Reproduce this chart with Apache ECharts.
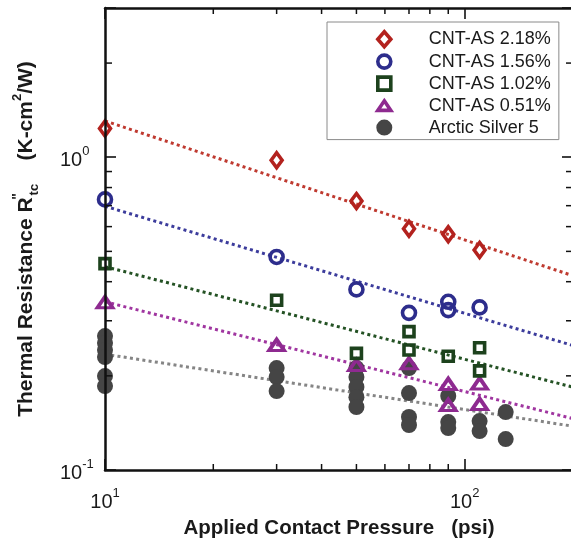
<!DOCTYPE html>
<html>
<head>
<meta charset="utf-8">
<script src="https://cdn.jsdelivr.net/npm/echarts@6/dist/echarts.min.js"></script>
<style>
  html, body { margin: 0; padding: 0; background: #fff; }
  #chart { width: 571px; height: 543px; }
</style>
</head>
<body>
<div id="chart"></div>
<script>
// Applied contact pressure (psi) and thermal contact resistance (K-cm^2/W)
const pressureAS218 = [10, 30, 50, 70, 90, 110];
const resistAS218   = [1.235, 0.978, 0.724, 0.591, 0.567, 0.505];

const pressureAS156 = [10, 30, 50, 70, 90, 90, 110];
const resistAS156   = [0.733, 0.480, 0.378, 0.318, 0.345, 0.3245, 0.331];

const pressureAS102 = [10, 30, 50, 70, 70, 90, 110, 110];
const resistAS102   = [0.457, 0.349, 0.236, 0.277, 0.242, 0.231, 0.246, 0.2075];

const pressureAS051 = [10, 30, 50, 70, 90, 90, 110, 110];
const resistAS051   = [0.344, 0.251, 0.2165, 0.2193, 0.1883, 0.1613, 0.1891, 0.1625];

const pressureSilver = [10, 10, 10, 10, 10, 10, 30, 30, 30, 50, 50, 50, 50, 50,
                        70, 70, 70, 70, 90, 90, 90, 110, 110, 130, 130];
const resistSilver   = [0.268, 0.2545, 0.2417, 0.2296, 0.1996, 0.1855,
                        0.2118, 0.1982, 0.1788,
                        0.2118, 0.1982, 0.1842, 0.171, 0.159,
                        0.2118, 0.1762, 0.1477, 0.1393,
                        0.1724, 0.1423, 0.1362,
                        0.1434, 0.1332,
                        0.1532, 0.1256];

const seriesNames = ['CNT-AS 2.18%', 'CNT-AS 1.56%', 'CNT-AS 1.02%', 'CNT-AS 0.51%', 'Arctic Silver 5'];

// Dotted power-law fits, given by their values at 10 psi and at 200 psi
const fitPressure = [10, 200];
const fitAS218  = [1.306, 0.418];
const fitAS156  = [0.697, 0.250];
const fitAS102  = [0.447, 0.184];
const fitAS051  = [0.345, 0.146];
const fitSilver = [0.2345, 0.138];

// Minor tick positions on the logarithmic axes
const xMinorTicks = [20, 30, 40, 50, 60, 70, 80, 90];
const yMinorTicks = [0.2, 0.3, 0.4, 0.5, 0.6, 0.7, 0.8, 0.9, 2];

const X_MIN = 10, X_MAX = 200, Y_MIN = 0.1, Y_MAX = 3;
const FONT = '"Liberation Sans", Arial, Helvetica, sans-serif';
const INK = '#1a1a1a';

const markerColors = ['#b3221e', '#2d2d8c', '#1d421d', '#8e2a90', '#454545'];
const fitColors    = ['#bf3a30', '#3c3c9c', '#245224', '#a036a0', '#858585'];

const pairs = (xs, ys) => xs.map((x, i) => [x, ys[i]]);

function decadeLabel(v) {
  const lg = Math.log10(v);
  const e = Math.round(lg);
  if (Math.abs(lg - e) > 1e-6) return '';
  return '{b|10}{s|' + e + '}';
}

const tickRich = {
  b: { fontSize: 20, fontFamily: FONT, color: INK, lineHeight: 30 },
  s: { fontSize: 13, fontFamily: FONT, color: INK, lineHeight: 12, verticalAlign: 'top' }
};

const frameLine = { show: true, lineStyle: { color: '#111', width: 2.5 } };
const majorTick = { show: true, inside: true, length: 11, lineStyle: { color: '#111', width: 1.6 } };

function fitLine(name, ys, color) {
  return {
    type: 'line', name: name, data: pairs(fitPressure, ys),
    symbol: 'none', showSymbol: false, silent: true, clip: false, z: 2,
    lineStyle: { color: color, width: 3, type: [3, 3.3], cap: 'butt' }
  };
}

function hollow(name, xs, ys, symbol, size, color) {
  return {
    type: 'scatter', name: name, data: pairs(xs, ys),
    symbol: symbol, symbolSize: size, clip: false, z: 3,
    itemStyle: { color: 'rgba(255,255,255,0)', borderColor: color, borderWidth: 3.6, opacity: 1 },
    emphasis: { disabled: true }
  };
}

// Short tick marks drawn at the frame edges for the minor decade values
function minorTickSeries(values, vertical) {
  return {
    type: 'custom', silent: true, clip: false, z: 10,
    data: values.map(v => vertical ? [X_MIN, v] : [v, Y_MIN]),
    renderItem: function (params, api) {
      const style = { stroke: '#111', lineWidth: 1.5 };
      if (vertical) {
        const v = api.value(1);
        const a = api.coord([X_MIN, v]);
        const b = api.coord([X_MAX, v]);
        return { type: 'group', children: [
          { type: 'line', shape: { x1: a[0], y1: a[1], x2: a[0] + 7, y2: a[1] }, style: style },
          { type: 'line', shape: { x1: b[0], y1: b[1], x2: b[0] - 7, y2: b[1] }, style: style }
        ]};
      }
      const v = api.value(0);
      const a = api.coord([v, Y_MIN]);
      const b = api.coord([v, Y_MAX]);
      return { type: 'group', children: [
        { type: 'line', shape: { x1: a[0], y1: a[1], x2: a[0], y2: a[1] - 6 }, style: style },
        { type: 'line', shape: { x1: b[0], y1: b[1], x2: b[0], y2: b[1] + 6 }, style: style }
      ]};
    }
  };
}

const legendIcons = [
  'path://M6.5,0L13,7.5L6.5,15L0,7.5Z',
  'circle',
  'path://M0,0H10V10H0Z',
  'path://M7.5,0L15,11H0Z',
  'circle'
];

const chart = echarts.init(document.getElementById('chart'), null, { renderer: 'canvas' });

chart.setOption({
  animation: false,
  backgroundColor: '#fff',
  grid: { left: 105, top: 8, width: 468, height: 462, containLabel: false, outerBoundsMode: 'none' },
  xAxis: [
    {
      type: 'log', logBase: 10, min: X_MIN, max: X_MAX, position: 'bottom', z: 10,
      axisLine: frameLine, axisTick: majorTick, splitLine: { show: false }, minorTick: { show: false },
      axisLabel: { formatter: decadeLabel, margin: 17, rich: tickRich, showMinLabel: true, showMaxLabel: true, hideOverlap: false },
      name: 'Applied Contact Pressure   (psi)', nameLocation: 'middle', nameGap: 48,
      nameTextStyle: { fontSize: 20.5, fontWeight: 'bold', fontFamily: FONT, color: INK }
    },
    {
      type: 'log', logBase: 10, min: X_MIN, max: X_MAX, position: 'top', z: 10,
      axisLine: frameLine, axisTick: majorTick, splitLine: { show: false },
      axisLabel: { show: false }
    }
  ],
  yAxis: [
    {
      type: 'log', logBase: 10, min: Y_MIN, max: Y_MAX, position: 'left', z: 10,
      axisLine: frameLine, axisTick: majorTick, splitLine: { show: false }, minorTick: { show: false },
      axisLabel: { formatter: decadeLabel, align: 'left', margin: 45, padding: [6, 0, 0, 0], rich: tickRich, showMinLabel: true, showMaxLabel: true, hideOverlap: false },
      name: '{t|Thermal Resistance R}{q|"}{sub|tc}{t|    (K-cm}{sup|2}{t|/W)}',
      nameLocation: 'middle', nameGap: 64, nameRotate: 90,
      nameTextStyle: {
        fontFamily: FONT, color: INK,
        rich: {
          t: { fontSize: 21, fontWeight: 'bold', fontFamily: FONT, color: INK, lineHeight: 30 },
          q: { fontSize: 14, fontWeight: 'bold', fontFamily: FONT, color: INK, lineHeight: 14, verticalAlign: 'top', width: 2 },
          sup: { fontSize: 13, fontWeight: 'bold', fontFamily: FONT, color: INK, lineHeight: 14, verticalAlign: 'top' },
          sub: { fontSize: 13, fontWeight: 'bold', fontFamily: FONT, color: INK, lineHeight: 12, verticalAlign: 'bottom' }
        }
      }
    },
    {
      type: 'log', logBase: 10, min: Y_MIN, max: Y_MAX, position: 'right', z: 10,
      axisLine: frameLine, axisTick: majorTick, splitLine: { show: false },
      axisLabel: { show: false }
    }
  ],
  legend: {
    orient: 'vertical', left: 327, top: 22,
    padding: [8, 8, 3, 49],
    itemWidth: 13, itemHeight: 15, itemGap: 4,
    borderColor: '#8a8a8a', borderWidth: 1, backgroundColor: '#fff',
    selectedMode: false,
    textStyle: { fontSize: 18, fontFamily: FONT, color: INK, padding: [0, 0, 0, 33] },
    data: seriesNames.map((n, i) => ({
      name: n,
      icon: legendIcons[i],
      itemStyle: i === 4
        ? { color: markerColors[4], borderColor: markerColors[4], borderWidth: 3 }
        : { borderWidth: 3.6 }
    }))
  },
  series: [
    fitLine('fit 2.18', fitAS218, fitColors[0]),
    fitLine('fit 1.56', fitAS156, fitColors[1]),
    fitLine('fit 1.02', fitAS102, fitColors[2]),
    fitLine('fit 0.51', fitAS051, fitColors[3]),
    fitLine('fit silver', fitSilver, fitColors[4]),
    {
      type: 'scatter', name: seriesNames[4], data: pairs(pressureSilver, resistSilver),
      symbol: 'circle', symbolSize: 16, clip: false, z: 3,
      itemStyle: { color: markerColors[4], opacity: 1 },
      emphasis: { disabled: true }
    },
    hollow(seriesNames[3], pressureAS051, resistAS051, 'triangle', [15, 11], markerColors[3]),
    hollow(seriesNames[2], pressureAS102, resistAS102, 'rect', 10, markerColors[2]),
    hollow(seriesNames[1], pressureAS156, resistAS156, 'circle', 13, markerColors[1]),
    hollow(seriesNames[0], pressureAS218, resistAS218, 'diamond', [11, 15], markerColors[0]),
    minorTickSeries(xMinorTicks, false),
    minorTickSeries(yMinorTicks, true)
  ]
});
</script>
</body>
</html>
